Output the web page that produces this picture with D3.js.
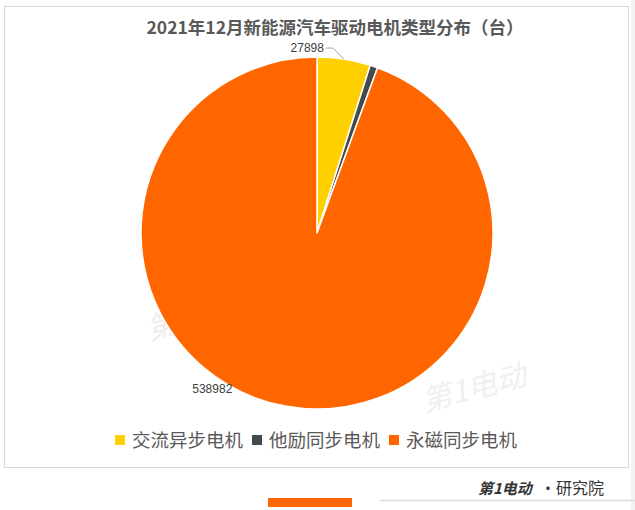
<!DOCTYPE html>
<html><head><meta charset="utf-8">
<script src="https://cdn.jsdelivr.net/npm/d3@7"></script>
<style>
html,body{margin:0;padding:0;background:#fff;}
svg{display:block;font-family:"Noto Sans CJK SC","Noto Sans",sans-serif;}
.num{font-family:"Liberation Sans","DejaVu Sans",sans-serif;}
</style></head>
<body>
<script>
const title = "2021年12月新能源汽车驱动电机类型分布（台）";
const categories = ["交流异步电机", "他励同步电机", "永磁同步电机"];
const values = [27898, 4000, 538982];
const colors = ["#FFD000", "#44494C", "#FF6600"];

const W = 635, H = 510;
const svg = d3.select("body").append("svg").attr("width", W).attr("height", H);

// chart frame
svg.append("rect").attr("x", 4.5).attr("y", 6.5).attr("width", 624).attr("height", 461)
  .attr("fill", "#fff").attr("stroke", "#d9d9d9").attr("stroke-width", 1);

// right edge shade
svg.append("rect").attr("x", 631).attr("y", 0).attr("width", 4).attr("height", H).attr("fill", "#f2f2f2");

// title
svg.append("text").attr("x", 335).attr("y", 34).attr("text-anchor", "middle")
  .attr("font-size", 17.5).attr("font-weight", "bold").attr("fill", "#595959").text(title);

// watermarks (faint)
svg.append("text").attr("x", 150).attr("y", 340).attr("font-size", 30).attr("font-style", "italic")
  .attr("fill", "#ededed").attr("transform", "rotate(-15,150,340)").text("第1电动");
svg.append("text").attr("x", 425).attr("y", 412).attr("font-size", 30).attr("font-style", "italic")
  .attr("fill", "#f0f0f0").attr("transform", "rotate(-15,425,412)").text("第1电动");

const cx = 317, cy = 233, R = 176;
const pie = d3.pie().sort(null).value(d => d.v);
const data = categories.map((c, i) => ({c, v: values[i], col: colors[i]}));
const arcs = pie(data);
const arc = d3.arc().innerRadius(0).outerRadius(R);

const g = svg.append("g").attr("transform", `translate(${cx},${cy})`);
g.selectAll("path").data(arcs).join("path")
  .attr("d", arc).attr("fill", d => d.data.col)
  .attr("stroke", "#fff").attr("stroke-width", 1.5).attr("stroke-linejoin", "round");

// label for the first slice: leader line from arc to label
const a0 = arcs[0];
const mid0 = (a0.startAngle + a0.endAngle) / 2;
const px = R * Math.sin(mid0), py = -R * Math.cos(mid0);
const lx = px - 11, ly = py - 11;
g.append("polyline")
  .attr("points", `${px},${py} ${lx},${ly} ${lx - 7},${ly}`)
  .attr("fill", "none").attr("stroke", "#a6a6a6").attr("stroke-width", 1);
g.append("text").attr("class", "num").attr("x", lx - 9).attr("y", ly + 4).attr("text-anchor", "end")
  .attr("font-size", 12).attr("fill", "#404040").text(d3.format("d")(a0.data.v));

// label for the large slice (placed outside the arc, lower-left)
const a2 = arcs[2];
const ang2 = a2.startAngle + (a2.endAngle - a2.startAngle) * 0.57;
const r2 = R + 12;
g.append("text").attr("class", "num").attr("x", r2 * Math.sin(ang2)).attr("y", -r2 * Math.cos(ang2) + 4)
  .attr("text-anchor", "middle").attr("font-size", 12).attr("fill", "#404040")
  .text(d3.format("d")(a2.data.v));

// legend
const legend = svg.append("g").attr("transform", "translate(0,440)");
const itemX = [115, 252, 389];
data.forEach((d, i) => {
  legend.append("rect").attr("x", itemX[i]).attr("y", -5).attr("width", 10).attr("height", 10).attr("fill", d.col);
  legend.append("text").attr("x", itemX[i] + 17).attr("y", 7).attr("font-size", 18.5)
    .attr("fill", "#595959").text(d.c);
});

// bottom decorations
svg.append("rect").attr("x", 268).attr("y", 498).attr("width", 84).attr("height", 9).attr("fill", "#FF6600");
svg.append("line").attr("x1", 380).attr("x2", 635).attr("y1", 500.5).attr("y2", 500.5)
  .attr("stroke", "#dcdcdc").attr("stroke-width", 1.5);
svg.append("text").attr("x", 478).attr("y", 494).attr("font-size", 15).attr("font-style", "italic")
  .attr("font-weight", "bold").attr("fill", "#333").text("第1电动");
svg.append("text").attr("x", 540).attr("y", 494).attr("font-size", 16).attr("fill", "#333").text("·研究院");
</script>
</body></html>
